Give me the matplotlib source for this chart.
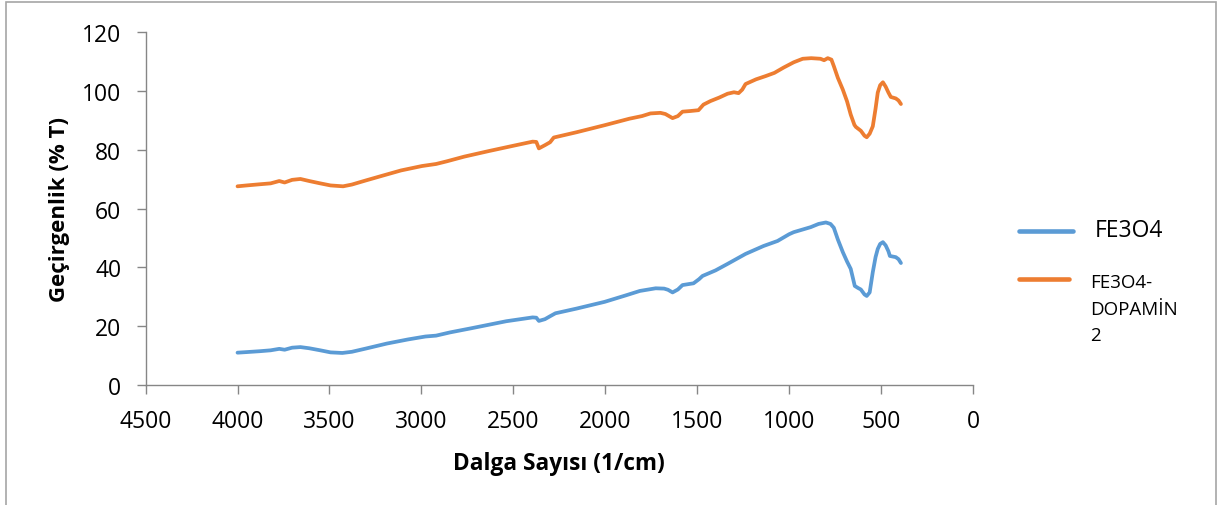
import matplotlib
matplotlib.use("Agg")
import matplotlib.pyplot as plt
from matplotlib.lines import Line2D
from matplotlib.patches import Rectangle

plt.rcParams['font.family'] = ['Open Sans', 'DejaVu Sans']

series_names = ["FE3O4", "FE3O4-\nDOPAMİN\n2"]
colors = ["#5B9BD5", "#ED7D31"]

fe3o4_wn = [4000, 3950, 3878, 3820, 3773, 3744, 3703, 3658, 3610, 3550, 3494, 3430,
            3378, 3302, 3188, 3073, 2978, 2920, 2844, 2729, 2538, 2395, 2375, 2361,
            2328, 2300, 2271, 2156, 2003, 1888, 1812, 1726, 1680, 1659, 1634, 1605,
            1580, 1520, 1490, 1471, 1400, 1335, 1237, 1139, 1063, 1000, 975, 883,
            840, 800, 775, 757, 735, 708, 685, 665, 643, 625, 610, 590, 578, 562,
            545, 530, 518, 505, 490, 475, 460, 452, 420, 405, 392]
fe3o4_t = [11.0, 11.2, 11.5, 11.8, 12.3, 12.0, 12.7, 12.9, 12.5, 11.8, 11.1, 10.9,
           11.3, 12.4, 14.1, 15.5, 16.5, 16.8, 17.9, 19.3, 21.7, 23.0, 22.9, 21.8,
           22.4, 23.4, 24.4, 26.0, 28.3, 30.5, 32.0, 32.9, 32.8, 32.4, 31.5, 32.5,
           34.0, 34.6, 36.0, 37.1, 39.0, 41.2, 44.6, 47.3, 49.0, 51.3, 52.0, 53.7,
           54.8, 55.3, 54.8, 53.5, 49.5, 45.2, 42.0, 39.5, 33.7, 33.0, 32.5, 30.8,
           30.3, 31.5, 38.4, 43.5, 46.3, 48.0, 48.6, 47.5, 45.5, 43.9, 43.5, 42.8, 41.5]

dopamin_wn = [4000, 3950, 3878, 3820, 3773, 3744, 3703, 3658, 3610, 3550, 3494, 3426,
              3378, 3302, 3207, 3111, 2997, 2920, 2862, 2767, 2633, 2500, 2395, 2375,
              2361, 2328, 2300, 2280, 2156, 2003, 1869, 1800, 1754, 1700, 1673, 1634,
              1605, 1580, 1540, 1493, 1466, 1428, 1380, 1335, 1300, 1275, 1255, 1237,
              1180, 1128, 1080, 1030, 975, 926, 880, 830, 810, 790, 770, 757, 735,
              708, 685, 665, 645, 637, 610, 590, 578, 562, 545, 530, 518, 505, 490,
              475, 460, 447, 420, 405, 392]
dopamin_t = [67.6, 67.9, 68.3, 68.6, 69.4, 68.9, 69.8, 70.1, 69.4, 68.6, 67.9, 67.6,
             68.2, 69.6, 71.3, 73.0, 74.5, 75.2, 76.1, 77.7, 79.6, 81.4, 82.8, 82.7,
             80.5, 81.6, 82.6, 84.2, 86.0, 88.4, 90.6, 91.5, 92.4, 92.6, 92.2, 90.8,
             91.5, 93.0, 93.2, 93.5, 95.4, 96.6, 97.8, 99.1, 99.6, 99.3, 100.5, 102.4,
             104.0, 105.1, 106.2, 108.0, 109.8, 111.0, 111.2, 111.0, 110.5, 111.2, 110.7,
             108.5, 104.5, 100.5, 96.5, 92.0, 88.5, 87.8, 86.5, 84.8, 84.3, 85.5, 88.0,
             94.0, 99.5, 102.0, 103.0, 101.5, 99.5, 98.0, 97.5, 96.8, 95.6]

x_ticks = [4500, 4000, 3500, 3000, 2500, 2000, 1500, 1000, 500, 0]
y_ticks = [0, 20, 40, 60, 80, 100, 120]
x_label = "Dalga Sayısı (1/cm)"
y_label = "Geçirgenlik (% T)"

W, H = 1232, 506
fig = plt.figure(figsize=(W / 100, H / 100), dpi=100)
ax = fig.add_axes([145.6 / W, 1 - 386 / H, (973 - 145.6) / W, (386 - 33.3) / H])

spine_c = "#868686"
for xs, ys, c in [(fe3o4_wn, fe3o4_t, colors[0]), (dopamin_wn, dopamin_t, colors[1])]:
    ax.plot(xs, ys, color=c, lw=2.7, solid_joinstyle='round', solid_capstyle='round')

ax.set_xlim(4500, 0)
ax.set_ylim(0, 120)
ax.set_xticks(x_ticks)
ax.set_yticks(y_ticks)
ax.set_xticklabels([str(v) for v in x_ticks])
ax.set_yticklabels([str(v) for v in y_ticks])
for s in ['top', 'right']:
    ax.spines[s].set_visible(False)
for s in ['left', 'bottom']:
    ax.spines[s].set_color(spine_c)
    ax.spines[s].set_linewidth(1.0)
ax.tick_params(axis='both', direction='out', length=6.5, width=1.0, color=spine_c,
               labelsize=16.5, labelcolor='black')
ax.tick_params(axis='y', pad=11)
ax.tick_params(axis='x', pad=11)

ax.set_xlabel(x_label, fontsize=16.3, fontweight='bold', va='center')
ax.xaxis.set_label_coords((559 - 145.6) / (973 - 145.6), (386 - 464) / (386 - 33.3))
ax.set_ylabel(y_label, fontsize=16, fontweight='bold', va='center')
ax.yaxis.set_label_coords((59 - 145.6) / (973 - 145.6), 0.5)

# manual legend
leg_items = [(232, colors[0], series_names[0], 16.5, 1095, 1073, 232, 1.55),
             (280, colors[1], series_names[1], 13.5, 1090, 1069, 287, 1.62)]
for y, c, name, fs, tx, x2, ty, ls in leg_items:
    fig.add_artist(Line2D([1019 / W, x2 / W], [1 - y / H, 1 - y / H], color=c, lw=3.3,
                          solid_capstyle='round', transform=fig.transFigure))
    fig.text(tx / W, 1 - (ty - 13) / H, name, fontsize=fs, ha='left', va='top',
             linespacing=ls)

# outer frame
fig.add_artist(Rectangle((6 / W, -0.05), (1216 - 6) / W, 1.05 - 3 / H, fill=False,
                         edgecolor="#A6A6A6", lw=1.2, transform=fig.transFigure))

fig.savefig("out.png", dpi=100)
